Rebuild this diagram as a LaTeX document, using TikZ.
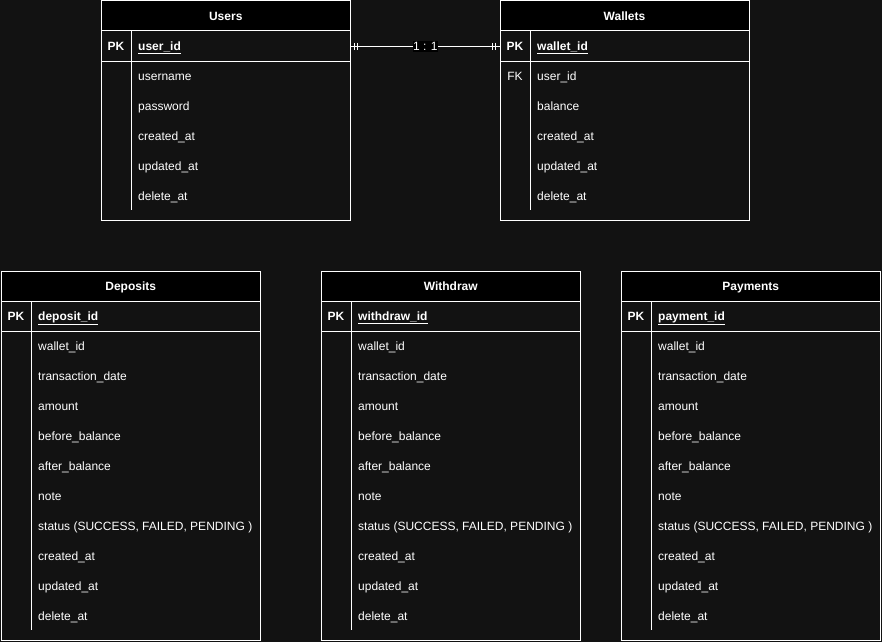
\documentclass[tikz,border=0pt]{standalone}
\usepackage{fontspec}
\setmainfont{Liberation Sans}
\usetikzlibrary{calc}
\definecolor{bgc}{HTML}{121212}
\tikzset{
  erline/.style={draw=white, line width=1pt},
  erbox/.style={draw=white, line width=1pt, fill=bgc, rectangle, inner sep=0pt, outer sep=0pt},
  erhead/.style={draw=white, line width=1pt, fill=black, rectangle, inner sep=0pt, outer sep=0pt, minimum height=30pt},
  ertitle/.style={text=white, font=\fontsize{12}{14}\selectfont\bfseries, anchor=base, inner sep=0pt},
  ertext/.style={text=white, font=\fontsize{12}{14}\selectfont, anchor=base west, inner sep=0pt},
  erpkfield/.style={text=white, font=\fontsize{12}{14}\selectfont\bfseries, anchor=base west, inner sep=0pt},
  erkey/.style={text=white, font=\fontsize{12}{14}\selectfont, anchor=base, inner sep=0pt},
  erpkkey/.style={text=white, font=\fontsize{12}{14}\selectfont\bfseries, anchor=base, inner sep=0pt},
  erlabel/.style={fill=black, text=white, font=\fontsize{12}{14}\selectfont, inner xsep=0.5pt, inner ysep=1.5pt},
}
% #1 name, #2 x0, #3 y0, #4 width, #5 height, #6 title, #7 pk field, #8 rows key/field
\newcommand\ertable[8]{%
  \node[erbox, minimum width=#4pt, minimum height=#5pt] (#1) at ({#2+#4/2},{#3+#5/2}) {};
  \node[erhead, minimum width=#4pt] (#1-head) at ({#2+#4/2},{#3+15}) {};
  \node[ertitle] (#1-title) at ({#2+#4/2},{#3+15+4.5}) {#6};
  \draw[erline] (#2,{#3+60}) -- ({#2+#4},{#3+60});
  \draw[erline] ({#2+30},{#3+30}) -- ({#2+30},{#3+#5-10});
  \node[erpkkey] (#1-pkkey) at ({#2+15},{#3+45+4.5}) {PK};
  \node[erpkfield] (#1-pk) at ({#2+37},{#3+45+4.5}) {\underline{#7}};
  \coordinate (#1-pkw) at (#2,{#3+45.5});
  \coordinate (#1-pke) at ({#2+#4},{#3+45.5});
  \foreach [count=\i from 0] \k/\f in {#8} {
    \node[erkey] (#1-k\i) at ({#2+15},{#3+75+30*\i+4.5}) {\k};
    \node[ertext] (#1-f\i) at ({#2+37},{#3+75+30*\i+4.5}) {\f};
  }
}
\begin{document}
\begin{tikzpicture}[x=1pt, y=-1pt]
\fill[bgc] (0,0) rectangle (882,642);
\useasboundingbox (0,0) rectangle (882,642);

\ertable{users}{101}{1}{249.5}{219}{Users}{user\_id}{{}/username,{}/password,{}/created\_at,{}/updated\_at,{}/delete\_at}
\ertable{wallets}{500}{1}{249}{219}{Wallets}{wallet\_id}{FK/user\_id,{}/balance,{}/created\_at,{}/updated\_at,{}/delete\_at}

\ertable{deposits}{1}{271}{259.5}{369}{Deposits}{deposit\_id}{{}/wallet\_id,{}/transaction\_date,{}/amount,{}/before\_balance,{}/after\_balance,{}/note,{}/{status (SUCCESS, FAILED, PENDING )},{}/created\_at,{}/updated\_at,{}/delete\_at}
\ertable{withdraw}{321}{271}{259.5}{369}{Withdraw}{withdraw\_id}{{}/wallet\_id,{}/transaction\_date,{}/amount,{}/before\_balance,{}/after\_balance,{}/note,{}/{status (SUCCESS, FAILED, PENDING )},{}/created\_at,{}/updated\_at,{}/delete\_at}
\ertable{payments}{621}{271}{259.5}{369}{Payments}{payment\_id}{{}/wallet\_id,{}/transaction\_date,{}/amount,{}/before\_balance,{}/after\_balance,{}/note,{}/{status (SUCCESS, FAILED, PENDING )},{}/created\_at,{}/updated\_at,{}/delete\_at}

\draw[erline] (users-pke) -- (wallets-pkw) node[midway, erlabel] (rel) {1 : 1};
\foreach \d in {4,7} {
  \draw[erline] ($(users-pke)+(\d,-3.5)$) -- ++(0,7);
}
\foreach \d in {5,8} {
  \draw[erline] ($(wallets-pkw)+(-\d,-3.5)$) -- ++(0,7);
}
\end{tikzpicture}
\end{document}
